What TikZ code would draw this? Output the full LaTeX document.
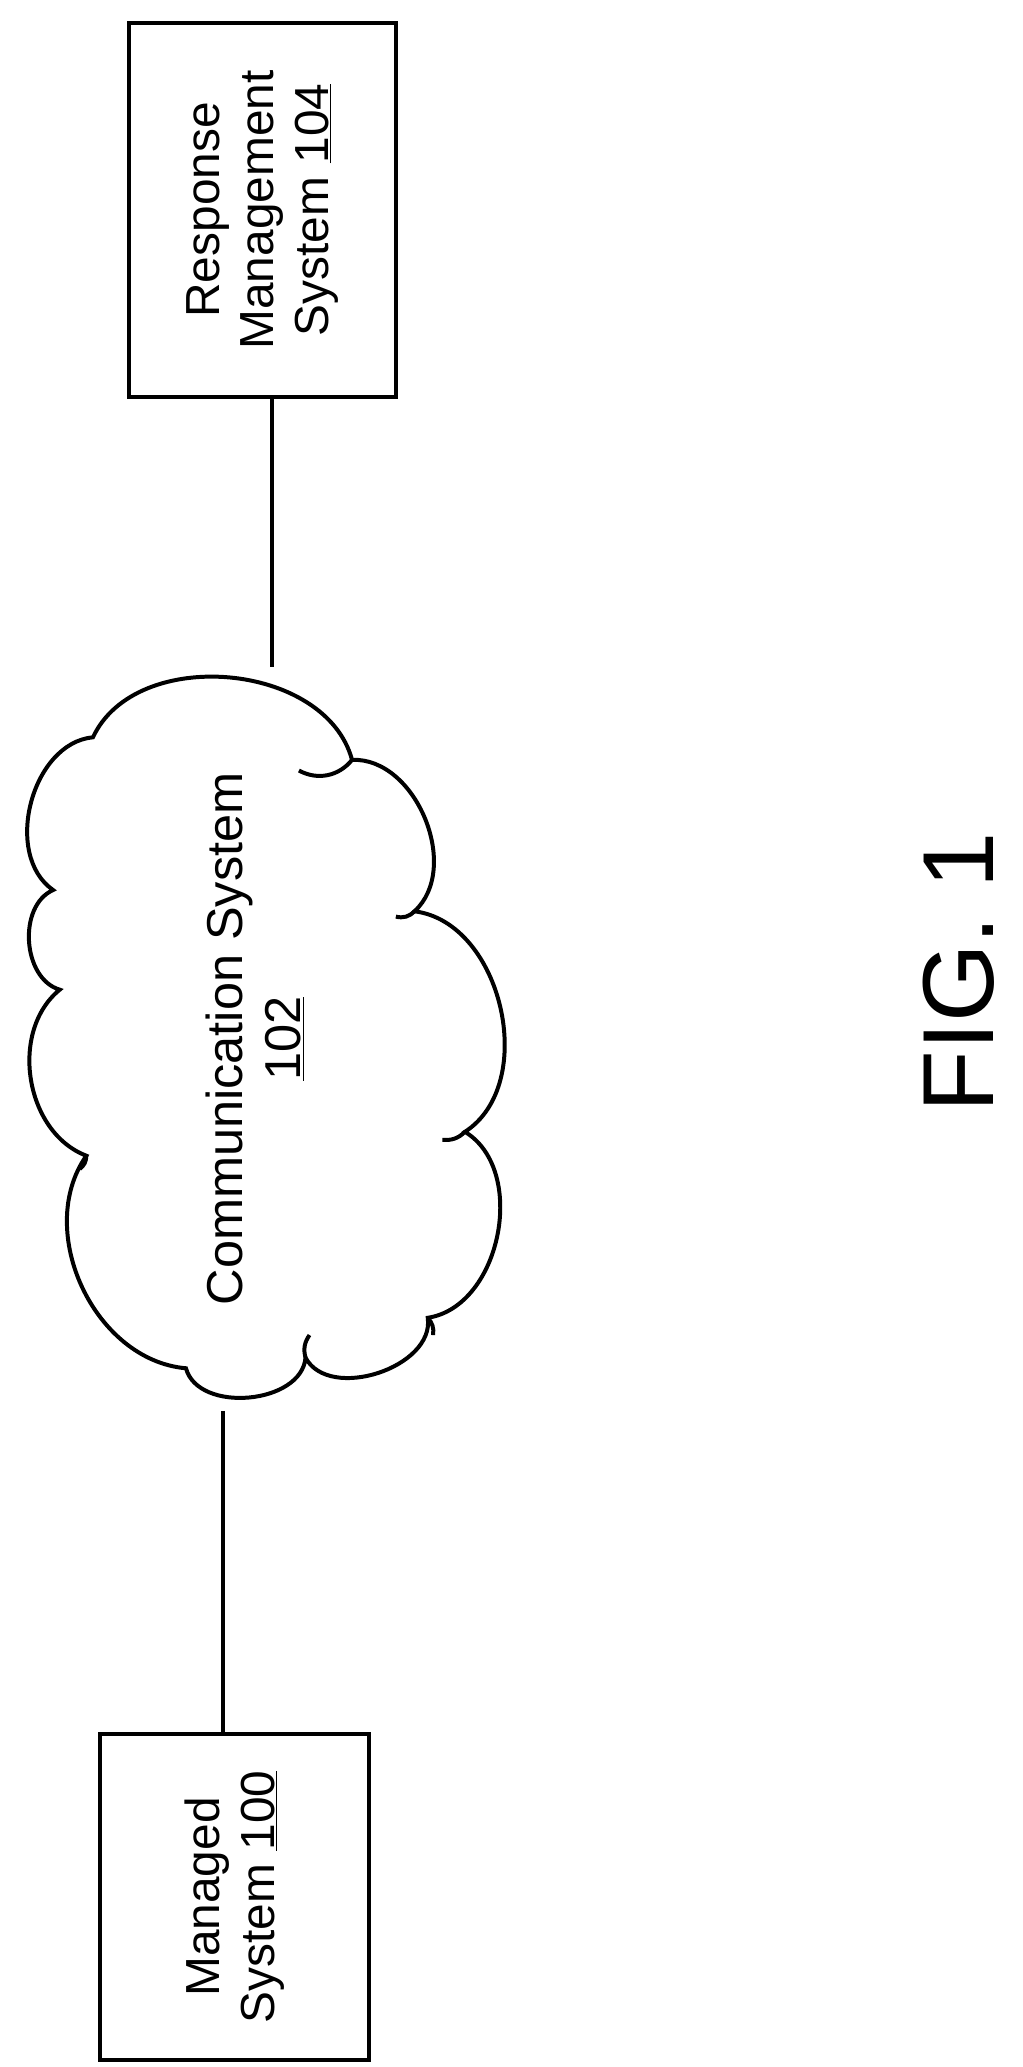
\documentclass[tikz,border=0pt]{standalone}
\usepackage{fontspec}
\setmainfont{Liberation Sans}
\begin{document}
\begin{tikzpicture}[x=1pt,y=-1pt,line width=3pt,
  box/.style={draw,line width=3pt,rotate=90,align=center,font=\fontsize{36}{41}\selectfont,inner sep=0pt}]
\useasboundingbox (0,0) rectangle (770,1556);
\node[box,minimum width=282,minimum height=201] (rms) at (197.5,158) {Response\\Management\\System \underline{104}};
\node[box,minimum width=245,minimum height=203] (ms) at (176.5,1428) {Managed\\System \underline{100}};
\draw (265,572) to[bend right=70] (70,555)
  to[bend right=70] (40,670) to[bend right=70] (45,745) to[bend right=60] (65,870)
  to[bend right=60] (140,1030) to[bend right=80] (230,1022) to[bend right=80] (322,992)
  to[bend right=70] (350,852) to[bend right=70] (312,686) to[bend right=70] (265,572);
\draw (225,580) to[bend right=40] (265,572);
\draw (298,690) to[bend right=30] (312,686);
\draw (350,852) to[bend left=25] (333,858);
\draw (322,992) to[bend left=25] (326,1005);
\draw (230,1022) to[bend left=25] (233,1005);
\draw (65,870) to[bend left=25] (60,880);
\node[rotate=90,align=center,font=\fontsize{38}{44}\selectfont] (cs) at (192,782) {Communication System\\\underline{102}};
\coordinate (ct) at (205,502);
\coordinate (cbot) at (168,1062);
\draw (ct |- rms.west) -- (ct);
\draw (cbot) -- (cbot |- ms.east);
\node[rotate=90,font=\fontsize{76}{80}\selectfont] (fig) at (722,732) {FIG. 1};
\end{tikzpicture}
\end{document}
